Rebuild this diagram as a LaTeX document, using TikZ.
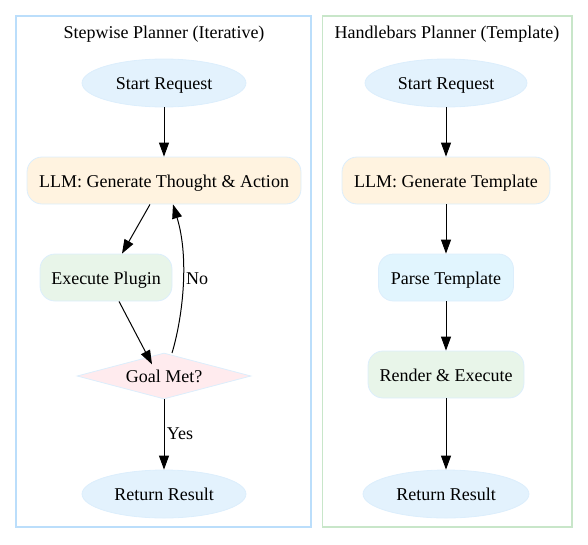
\documentclass[tikz,border=0pt]{standalone}
\usepackage{fontspec}
\setmainfont{Liberation Serif}
\usetikzlibrary{shapes.geometric,arrows.meta}
\definecolor{ellfill}{HTML}{E3F2FD}
\definecolor{llmfill}{HTML}{FFF3E0}
\definecolor{exefill}{HTML}{E8F5E9}
\definecolor{goalfill}{HTML}{FFEBEE}
\definecolor{parsefill}{HTML}{E1F5FE}
\definecolor{nodeline}{HTML}{DCEEFC}
\definecolor{clusterA}{HTML}{BBDEFB}
\definecolor{clusterB}{HTML}{C8E6C9}
\tikzset{
  base/.style={draw=nodeline, line width=0.8pt, font=\fontsize{18}{21}\selectfont, inner sep=0pt, text height=13pt, text depth=0pt},
  ell/.style={base, ellipse, fill=ellfill, minimum width=164pt, minimum height=48pt},
  rbox/.style={base, rectangle, rounded corners=15pt, minimum height=47pt},
  goal/.style={base, diamond, aspect=3.8, fill=goalfill, minimum width=174pt, minimum height=46pt},
  cluster/.style={line width=1.2pt},
  title/.style={font=\fontsize{18}{21}\selectfont},
  arr/.style={-{Triangle[length=14pt,width=10pt]}, line width=1pt, black},
  lbl/.style={font=\fontsize{18}{21}\selectfont}
}
\begin{document}
\begin{tikzpicture}[x=1pt,y=-1pt]
\useasboundingbox (0,0) rectangle (588,544);
% clusters
\draw[cluster, draw=clusterA] (16,16) rectangle (311,527);
\draw[cluster, draw=clusterB] (322.5,16) rectangle (572,527);
\node[title] (t1) at (164,34) {Stepwise Planner (Iterative)};
\node[title] (t2) at (447,34) {Handlebars Planner (Template)};
% left
\node[ell] (s1) at (164,83) {Start Request};
\node[rbox, fill=llmfill, minimum width=274pt] (l1) at (164,180.5) {LLM: Generate Thought \& Action};
\node[rbox, fill=exefill, minimum width=132pt] (e1) at (106,277.5) {Execute Plugin};
\node[goal] (g1) at (164,376) {Goal Met?};
\node[ell] (r1) at (164,494) {Return Result};
\draw[arr] (s1) -- (l1);
\draw[arr] (l1.south -| 150,0) -- (e1.north -| 122,0);
\draw[arr] (e1.south -| 119,0) -- (g1.north west -| 152,0) ;
\draw[arr] (172,353) .. controls (182,320) and (190,260) .. (l1.south -| 173,0);
\node[lbl] (no) at (197,279) {No};
\draw[arr] (g1) -- (r1) node[lbl, midway, right, xshift=-1pt, yshift=1pt] (yes) {Yes};
% right
\node[ell, minimum width=162pt] (s2) at (446,83) {Start Request};
\node[rbox, fill=llmfill, minimum width=208pt] (l2) at (446,180.5) {LLM: Generate Template};
\node[rbox, fill=parsefill, minimum width=135pt] (p2) at (446,277.5) {Parse Template};
\node[rbox, fill=exefill, minimum width=156pt] (x2) at (446,374.5) {Render \& Execute};
\node[ell, minimum width=166pt] (r2) at (446,494) {Return Result};
\draw[arr] (s2) -- (l2);
\draw[arr] (l2) -- (p2);
\draw[arr] (p2) -- (x2);
\draw[arr] (x2) -- (r2);
\end{tikzpicture}
\end{document}
